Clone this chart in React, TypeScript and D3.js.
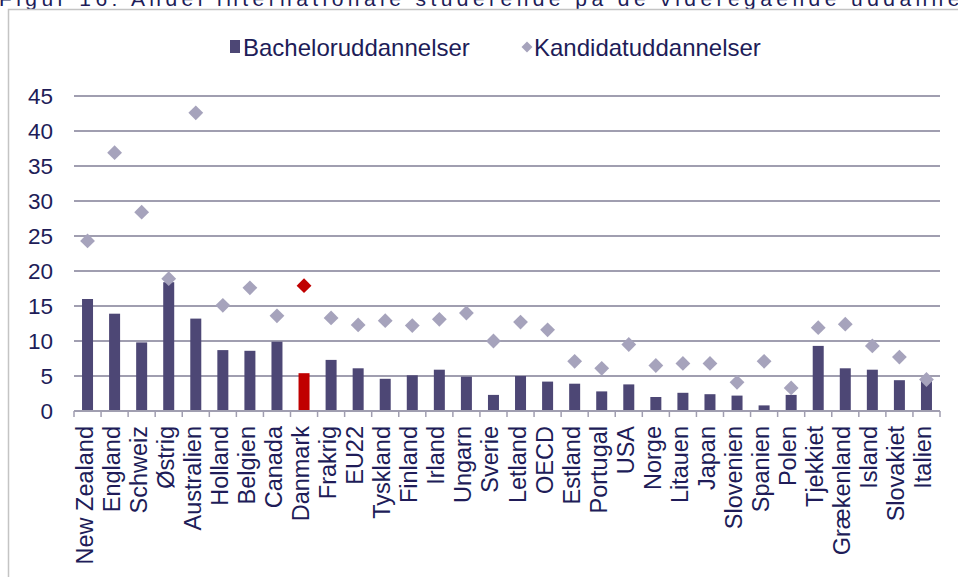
import React, { useEffect, useRef } from 'react';
import * as d3 from 'd3';

const countries = ['New Zealand', 'England', 'Schweiz', 'Østrig', 'Australien', 'Holland', 'Belgien', 'Canada', 'Danmark', 'Frakrig', 'EU22', 'Tyskland', 'Finland', 'Irland', 'Ungarn', 'Sverie', 'Letland', 'OECD', 'Estland', 'Portugal', 'USA', 'Norge', 'Litauen', 'Japan', 'Slovenien', 'Spanien', 'Polen', 'Tjekkiet', 'Grækenland', 'Island', 'Slovakiet', 'Italien'];
const bachelor = [16.0, 13.9, 9.8, 18.4, 13.2, 8.7, 8.6, 9.9, 5.4, 7.3, 6.1, 4.6, 5.1, 5.9, 4.9, 2.3, 5.0, 4.2, 3.9, 2.8, 3.8, 2.0, 2.6, 2.4, 2.2, 0.8, 2.3, 9.3, 6.1, 5.9, 4.4, 4.3];
const kandidat = [24.3, 36.9, 28.4, 18.9, 42.6, 15.1, 17.6, 13.6, 17.9, 13.3, 12.3, 12.9, 12.2, 13.1, 14.0, 10.0, 12.7, 11.6, 7.1, 6.1, 9.5, 6.5, 6.8, 6.8, 4.1, 7.1, 3.3, 11.9, 12.4, 9.3, 7.7, 4.5];
const yTicks = [0, 5, 10, 15, 20, 25, 30, 35, 40, 45];
const seriesNames = ['Bacheloruddannelser', 'Kandidatuddannelser'];
const highlight = 'Danmark';

const W = 958, H = 577;
const BAR = '#4d4775', DIA = '#a6a3bc', RED = '#c00000', TXT = '#201c58', GRID = '#a09eb0';
const FONT = 'Liberation Sans, Arial, sans-serif';

export default function App() {
  const ref = useRef<SVGSVGElement>(null);

  useEffect(() => {
    const svg = d3.select(ref.current);
    svg.selectAll('*').remove();

    const x = d3.scaleBand().domain(countries).range([74, 940]).padding(0);
    const y = d3.scaleLinear().domain([0, 45]).range([411, 96]);

    // title (cut off at top) and frame
    svg.append('text')
      .attr('x', -1).attr('y', 6)
      .attr('font-family', FONT).attr('font-size', 21)
      .attr('textLength', 1012).attr('lengthAdjust', 'spacing')
      .attr('fill', TXT)
      .text('Figur 16: Andel internationale studerende på de videregående uddannelser');

    svg.append('rect')
      .attr('x', 8.5).attr('y', 9.5).attr('width', 1000).attr('height', 700)
      .attr('fill', 'white').attr('stroke', '#c4c4c4').attr('stroke-width', 1.5);

    // gridlines
    svg.append('g').selectAll('line').data(yTicks.filter(t => t > 0)).join('line')
      .attr('x1', 74).attr('x2', 940)
      .attr('y1', d => y(d)).attr('y2', d => y(d))
      .attr('stroke', GRID).attr('stroke-width', 1.8);

    // y labels
    svg.append('g').selectAll('text').data(yTicks).join('text')
      .attr('x', 53).attr('y', d => y(d)).attr('dy', '0.36em')
      .attr('text-anchor', 'end')
      .attr('font-family', FONT).attr('font-size', 22.5).attr('fill', TXT)
      .text(d => d);

    // bars
    const bw = 11;
    svg.append('g').selectAll('rect').data(countries).join('rect')
      .attr('x', d => x(d)! + x.bandwidth() / 2 - bw / 2)
      .attr('width', bw)
      .attr('y', (d, i) => y(bachelor[i]))
      .attr('height', (d, i) => y(0) - y(bachelor[i]))
      .attr('fill', d => d === highlight ? RED : BAR);

    // x axis
    const ax = svg.append('g');
    ax.append('line').attr('x1', 74).attr('x2', 940).attr('y1', 411).attr('y2', 411)
      .attr('stroke', GRID).attr('stroke-width', 1.8);
    const bounds = countries.map(c => x(c)!).concat([940]);
    ax.selectAll('line.tick').data(bounds).join('line').attr('class', 'tick')
      .attr('x1', d => d).attr('x2', d => d).attr('y1', 411).attr('y2', 417)
      .attr('stroke', GRID).attr('stroke-width', 1.5);

    // diamonds
    const diamond = d3.symbol().type(d3.symbolSquare).size(110);
    svg.append('g').selectAll('path').data(countries).join('path')
      .attr('d', diamond()!)
      .attr('transform', (d, i) => `translate(${x(d)! + x.bandwidth() / 2},${y(kandidat[i])}) rotate(45)`)
      .attr('fill', d => d === highlight ? RED : DIA);

    // x labels
    svg.append('g').selectAll('text').data(countries).join('text')
      .attr('transform', d => `translate(${x(d)! + x.bandwidth() / 2 + 5},426) rotate(-90)`)
      .attr('text-anchor', 'end')
      .attr('font-family', FONT).attr('font-size', 23.5).attr('fill', TXT)
      .text(d => d);

    // legend
    const lg = svg.append('g');
    lg.append('rect').attr('x', 230).attr('y', 40).attr('width', 10).attr('height', 13).attr('fill', BAR);
    lg.append('text').attr('x', 243).attr('y', 47).attr('dy', '0.36em')
      .attr('font-family', FONT).attr('font-size', 24).attr('fill', TXT)
      .text(seriesNames[0]);
    lg.append('path').attr('d', d3.symbol().type(d3.symbolSquare).size(60)()!)
      .attr('transform', 'translate(527,47) rotate(45)').attr('fill', DIA);
    lg.append('text').attr('x', 534).attr('y', 47).attr('dy', '0.36em')
      .attr('font-family', FONT).attr('font-size', 24).attr('fill', TXT)
      .text(seriesNames[1]);
  }, []);

  return (
    <svg ref={ref} width={W} height={H}
      style={{ position: 'absolute', left: 0, top: 0, background: 'white' }} />
  );
}
